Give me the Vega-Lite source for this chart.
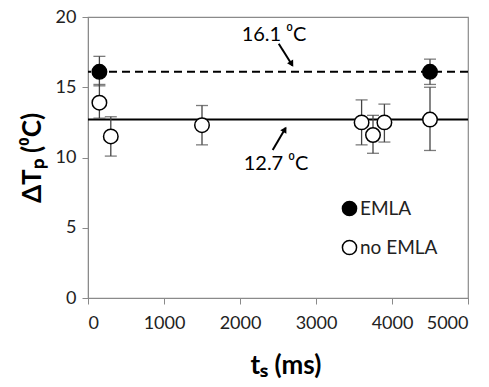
{
  "$schema": "https://vega.github.io/schema/vega-lite/v6.json",
  "width": 380,
  "height": 281,
  "autosize": "none",
  "padding": {"left": 88, "top": 17, "right": 21, "bottom": 89},
  "background": "white",
  "config": {
    "font": "Lato",
    "view": {"stroke": "#8a8a8a", "strokeWidth": 1.2},
    "axis": {
      "grid": false,
      "domainColor": "#8a8a8a",
      "tickColor": "#8a8a8a",
      "tickSize": 6,
      "labelFontSize": 18,
      "labelColor": "#222",
      "labelFont": "Lato",
      "titleFont": "Lato",
      "titleFontSize": 26,
      "titleFontWeight": "bold",
      "titleColor": "black"
    }
  },
  "datasets": {
    "pts": [
      {"series": "EMLA", "t": 150, "dT": 16.1, "lo": 15.1, "hi": 17.2},
      {"series": "EMLA", "t": 4500, "dT": 16.1, "lo": 15.2, "hi": 17.0},
      {"series": "no EMLA", "t": 150, "dT": 13.9, "lo": 12.8, "hi": 15.2},
      {"series": "no EMLA", "t": 300, "dT": 11.5, "lo": 10.1, "hi": 12.9},
      {"series": "no EMLA", "t": 1500, "dT": 12.3, "lo": 10.9, "hi": 13.7},
      {"series": "no EMLA", "t": 3600, "dT": 12.5, "lo": 10.9, "hi": 14.1},
      {"series": "no EMLA", "t": 3750, "dT": 11.6, "lo": 10.3, "hi": 13.0},
      {"series": "no EMLA", "t": 3900, "dT": 12.5, "lo": 11.1, "hi": 13.8},
      {"series": "no EMLA", "t": 4500, "dT": 12.7, "lo": 10.5, "hi": 15.0}
    ],
    "notes": [
      {"label": "16.1 ⁰C", "t": 2447, "dT": 18.73},
      {"label": "12.7 ⁰C", "t": 2474, "dT": 9.54}
    ],
    "arrows": [
      {"t1": 2510, "v1": 18.1, "t2": 2690, "v2": 16.55, "ht": 2680, "hv": 16.65, "ang": 149},
      {"t1": 2430, "v1": 10.54, "t2": 2600, "v2": 12.1, "ht": 2590, "hv": 12.0, "ang": 30}
    ]
  },
  "layer": [
    {
      "data": {"values": [{"level": 16.1}]},
      "mark": {"type": "rule", "strokeDash": [8, 5], "strokeWidth": 2, "color": "black"},
      "encoding": {"y": {"field": "level", "type": "quantitative", "scale": {"domain": [0, 20], "nice": false}}}
    },
    {
      "data": {"values": [{"level": 12.7}]},
      "mark": {"type": "rule", "strokeWidth": 2, "color": "black"},
      "encoding": {"y": {"field": "level", "type": "quantitative"}}
    },
    {
      "data": {"name": "pts"},
      "mark": {"type": "rule", "color": "#444", "strokeWidth": 1.3},
      "encoding": {
        "x": {"field": "t", "type": "quantitative"},
        "y": {"field": "lo", "type": "quantitative"},
        "y2": {"field": "hi"}
      }
    },
    {
      "data": {"name": "pts"},
      "mark": {"type": "tick", "orient": "horizontal", "color": "#444", "size": 12, "thickness": 1.3},
      "encoding": {
        "x": {"field": "t", "type": "quantitative"},
        "y": {"field": "lo", "type": "quantitative"}
      }
    },
    {
      "data": {"name": "pts"},
      "mark": {"type": "tick", "orient": "horizontal", "color": "#444", "size": 12, "thickness": 1.3},
      "encoding": {
        "x": {"field": "t", "type": "quantitative"},
        "y": {"field": "hi", "type": "quantitative"}
      }
    },
    {
      "data": {"name": "pts"},
      "mark": {"type": "point", "shape": "circle", "filled": true, "size": 210, "stroke": "black", "strokeWidth": 1.5, "opacity": 1},
      "encoding": {
        "x": {
          "field": "t", "type": "quantitative",
          "scale": {"domain": [0, 5000], "nice": false},
          "axis": {"values": [0, 1000, 2000, 3000, 4000, 5000], "format": "d", "labelPadding": 10, "title": "tₛ (ms)", "titlePadding": 20, "titleX": 162, "titleAnchor": "start", "titleAlign": "left"}
        },
        "y": {
          "field": "dT", "type": "quantitative",
          "scale": {"domain": [0, 20], "nice": false},
          "axis": {"values": [0, 5, 10, 15, 20], "labelPadding": 6, "title": "ΔTₚ (⁰C)", "titlePadding": 10}
        },
        "fill": {
          "field": "series", "type": "nominal",
          "scale": {"domain": ["EMLA", "no EMLA"], "range": ["black", "white"]},
          "legend": {
            "orient": "none", "legendX": 252, "legendY": 182, "title": null,
            "padding": 0, "symbolType": "circle", "symbolSize": 200,
            "symbolStrokeColor": "black", "symbolStrokeWidth": 1.5,
            "labelFontSize": 19, "labelColor": "#222", "labelOffset": 1, "rowPadding": 18
          }
        }
      }
    },
    {
      "data": {"name": "notes"},
      "mark": {"type": "text", "fontSize": 20, "color": "black", "align": "center", "baseline": "middle"},
      "encoding": {
        "x": {"field": "t", "type": "quantitative"},
        "y": {"field": "dT", "type": "quantitative"},
        "text": {"field": "label"}
      }
    },
    {
      "data": {"name": "arrows"},
      "mark": {"type": "rule", "strokeWidth": 2, "color": "black"},
      "encoding": {
        "x": {"field": "t1", "type": "quantitative"},
        "y": {"field": "v1", "type": "quantitative"},
        "x2": {"field": "t2"},
        "y2": {"field": "v2"}
      }
    },
    {
      "data": {"name": "arrows"},
      "mark": {"type": "point", "shape": "triangle-up", "filled": true, "size": 50, "color": "black", "opacity": 1},
      "encoding": {
        "x": {"field": "ht", "type": "quantitative"},
        "y": {"field": "hv", "type": "quantitative"},
        "angle": {"field": "ang", "type": "quantitative", "scale": null}
      }
    }
  ]
}
